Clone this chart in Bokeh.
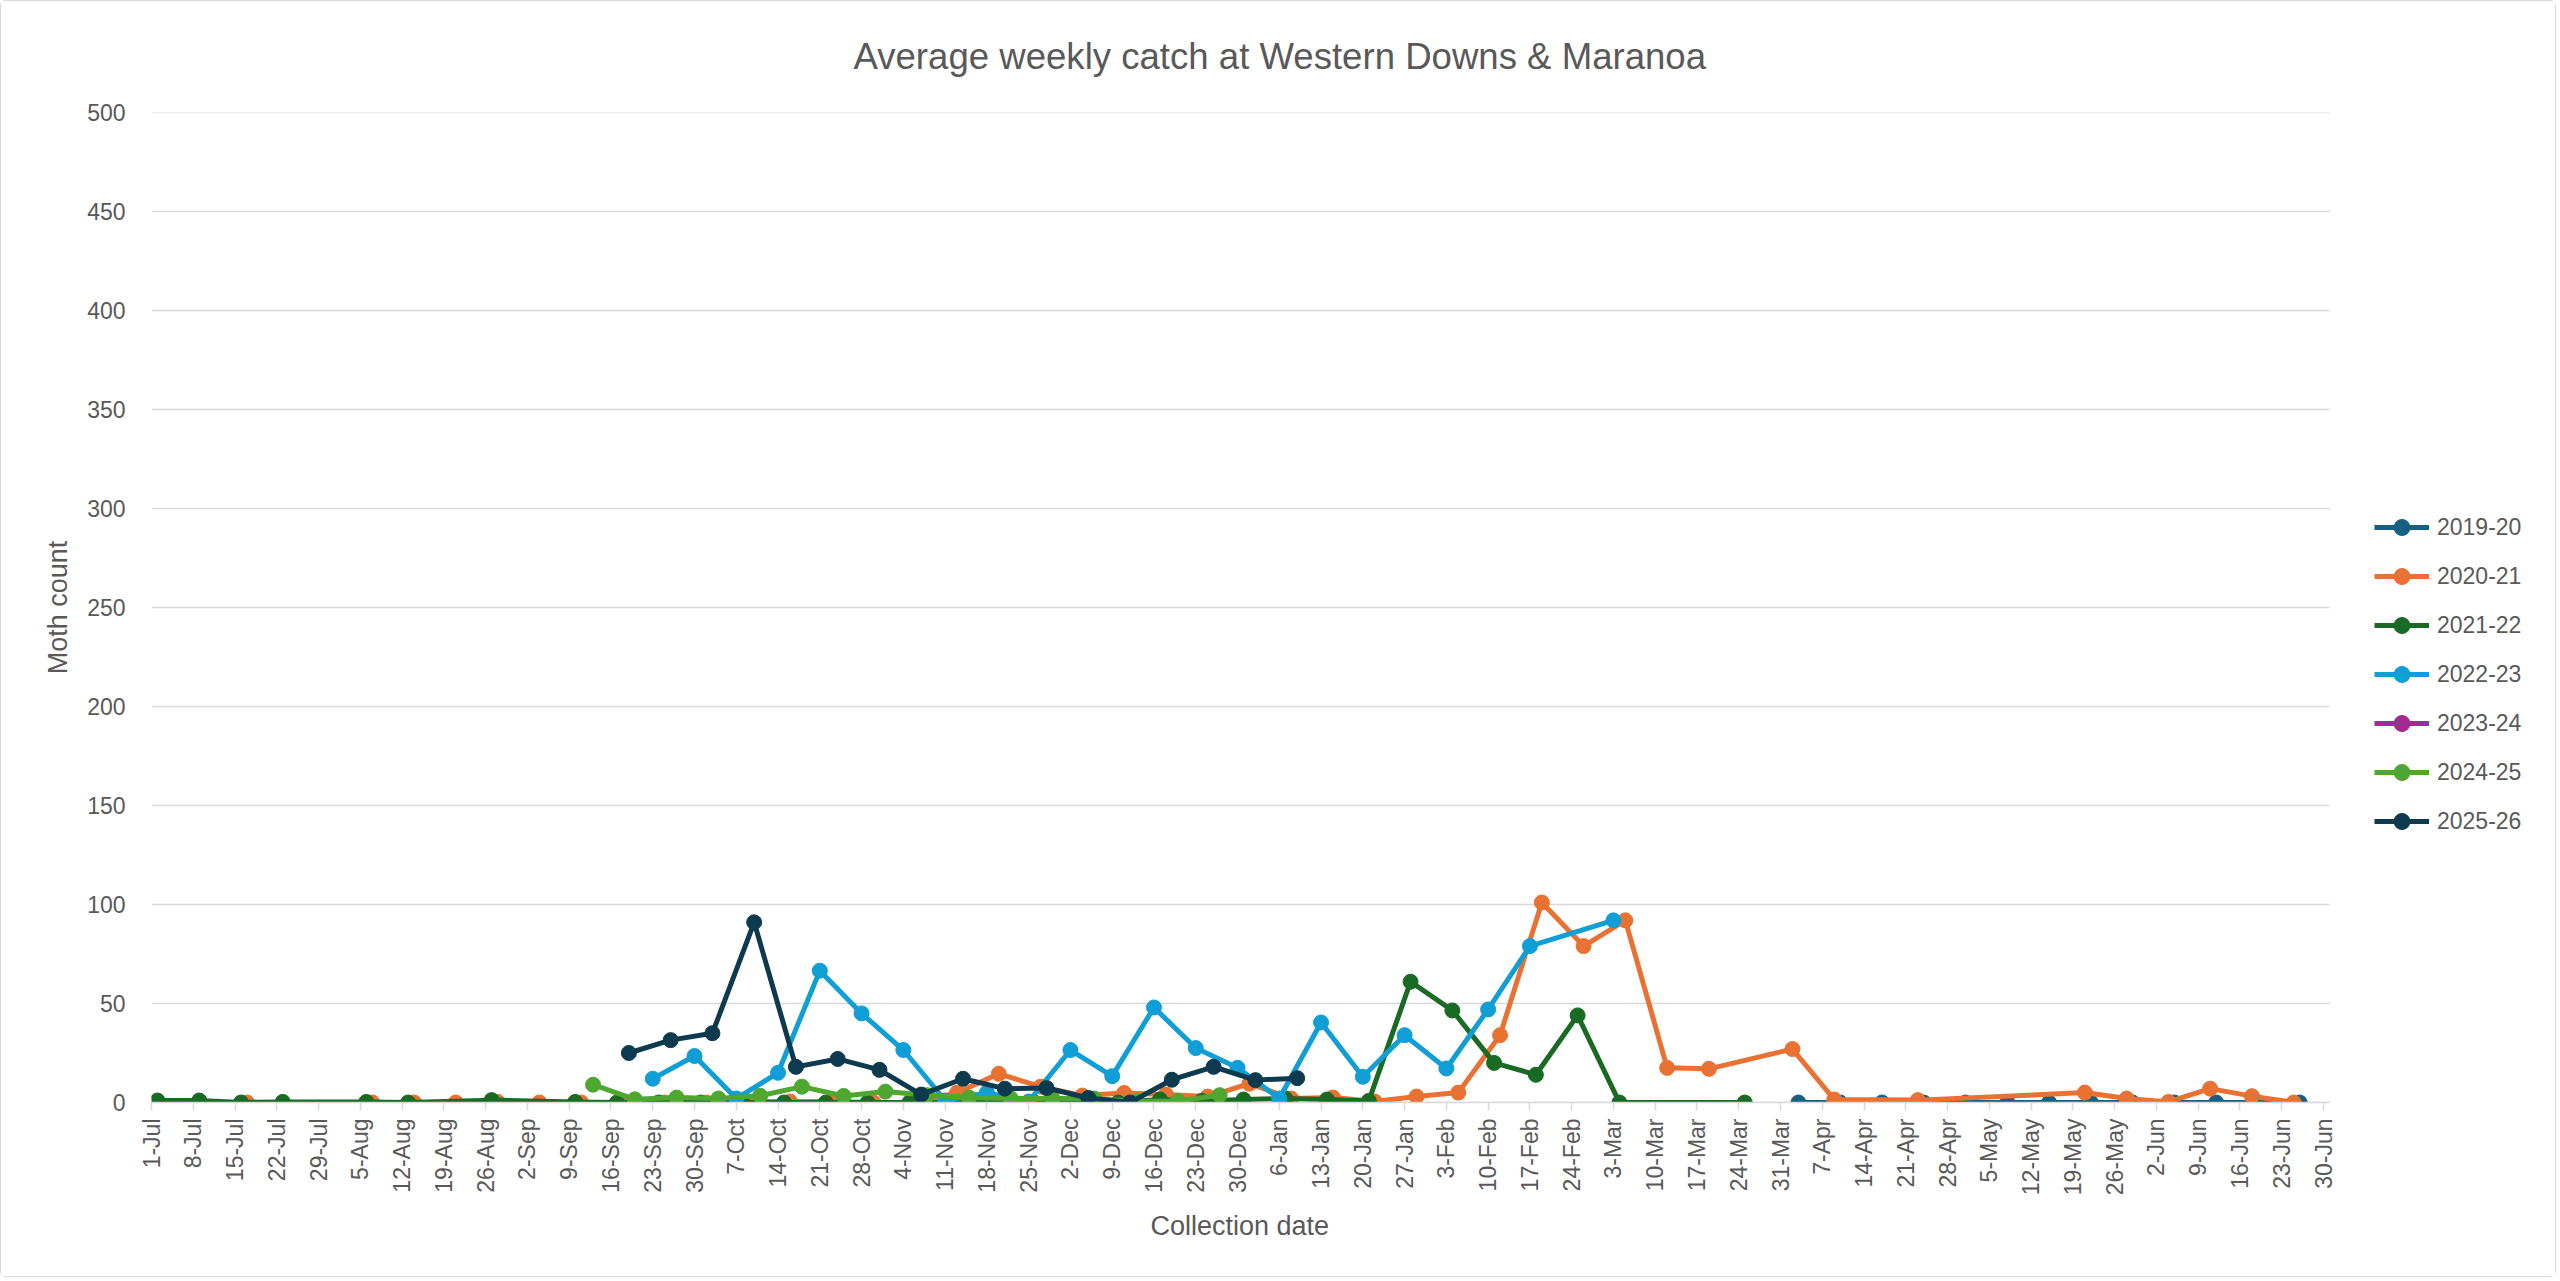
import math
from bokeh.plotting import figure
from bokeh.models import (ColumnDataSource, FixedTicker, Legend, LegendItem,
                          Title, Range1d)
from bokeh.embed import file_html
from bokeh.resources import INLINE

# ---------------- data ----------------
TICK_LABELS = ['1-Jul', '8-Jul', '15-Jul', '22-Jul', '29-Jul', '5-Aug', '12-Aug',
               '19-Aug', '26-Aug', '2-Sep', '9-Sep', '16-Sep', '23-Sep', '30-Sep',
               '7-Oct', '14-Oct', '21-Oct', '28-Oct', '4-Nov', '11-Nov', '18-Nov',
               '25-Nov', '2-Dec', '9-Dec', '16-Dec', '23-Dec', '30-Dec', '6-Jan',
               '13-Jan', '20-Jan', '27-Jan', '3-Feb', '10-Feb', '17-Feb', '24-Feb',
               '3-Mar', '10-Mar', '17-Mar', '24-Mar', '31-Mar', '7-Apr', '14-Apr',
               '21-Apr', '28-Apr', '5-May', '12-May', '19-May', '26-May', '2-Jun',
               '9-Jun', '16-Jun', '23-Jun', '30-Jun']
Y_TICKS = [0, 50, 100, 150, 200, 250, 300, 350, 400, 450, 500]

SEASONS = ["2019-20", "2020-21", "2021-22", "2022-23", "2023-24", "2024-25", "2025-26"]

dates_2019_20 = ['3-Apr', '10-Apr', '17-Apr', '24-Apr', '1-May', '8-May', '15-May',
                 '22-May', '29-May', '5-Jun', '12-Jun', '19-Jun', '26-Jun']
catch_2019_20 = [0, 0, 0, 0, 0, 0, 0, 0, 0, 0, 0, 0, 0]

dates_2020_21 = ['17-Jul', '7-Aug', '14-Aug', '21-Aug', '28-Aug', '4-Sep', '11-Sep',
                 '18-Sep', '25-Sep', '2-Oct', '9-Oct', '16-Oct', '23-Oct', '30-Oct',
                 '6-Nov', '13-Nov', '20-Nov', '27-Nov', '4-Dec', '11-Dec', '18-Dec',
                 '25-Dec', '1-Jan', '8-Jan', '15-Jan', '22-Jan', '29-Jan', '5-Feb',
                 '12-Feb', '19-Feb', '26-Feb', '5-Mar', '12-Mar', '19-Mar', '2-Apr',
                 '9-Apr', '23-Apr', '21-May', '28-May', '4-Jun', '11-Jun', '18-Jun',
                 '25-Jun']
catch_2020_21 = [0, 0, 0, 0, 0.3, 0, 0, 0, 0, 0, 0.5, 0.5, 0.5, 0,
                 0, 5, 14.5, 8, 3.5, 4.8, 4, 3, 9.5, 2, 2.5, 0.5, 3, 5,
                 34, 101, 79, 92, 17.5, 17, 27, 1.5, 1.2, 5, 2, 0.3, 7, 3.2, 0]

dates_2021_22 = ['2-Jul', '9-Jul', '16-Jul', '23-Jul', '6-Aug', '13-Aug', '27-Aug',
                 '10-Sep', '17-Sep', '24-Sep', '1-Oct', '8-Oct', '15-Oct', '22-Oct',
                 '29-Oct', '5-Nov', '12-Nov', '19-Nov', '26-Nov', '3-Dec', '10-Dec',
                 '17-Dec', '24-Dec', '31-Dec', '7-Jan', '14-Jan', '21-Jan', '28-Jan',
                 '4-Feb', '11-Feb', '18-Feb', '25-Feb', '4-Mar', '25-Mar']
catch_2021_22 = [1, 1, 0, 0.3, 0.3, 0, 1.2, 0.3, 0, 0, 0, 0, 0, 0, 0, 0, 0, 0,
                 0, 0, 0, 1.5, 0.8, 1.5, 2, 1.5, 0.8, 61, 46.5, 20, 14, 44, 0, 0]

dates_2022_23 = ['23-Sep', '30-Sep', '7-Oct', '14-Oct', '21-Oct', '28-Oct', '4-Nov',
                 '11-Nov', '18-Nov', '25-Nov', '2-Dec', '9-Dec', '16-Dec', '23-Dec',
                 '30-Dec', '6-Jan', '13-Jan', '20-Jan', '27-Jan', '3-Feb', '10-Feb',
                 '17-Feb', '3-Mar']
catch_2022_23 = [12, 23.5, 2, 15, 66.6, 45, 26.5, 1, 5, 0.5, 26.5, 13.3, 48, 27.5,
                 17.5, 2, 40.4, 13, 34, 17.2, 47, 79, 92]

dates_2023_24 = []
catch_2023_24 = []

dates_2024_25 = ['13-Sep', '20-Sep', '27-Sep', '4-Oct', '11-Oct', '18-Oct', '25-Oct',
                 '1-Nov', '8-Nov', '15-Nov', '22-Nov', '29-Nov', '6-Dec', '13-Dec',
                 '20-Dec', '27-Dec']
catch_2024_25 = [9, 1.6, 2.5, 2, 3.4, 8, 3.3, 5.5, 3.7, 2.5, 2, 2, 2, 0.5, 0.8, 3.7]

dates_2025_26 = ['19-Sep', '26-Sep', '3-Oct', '10-Oct', '17-Oct', '24-Oct', '31-Oct',
                 '7-Nov', '14-Nov', '21-Nov', '28-Nov', '5-Dec', '12-Dec', '19-Dec',
                 '26-Dec', '2-Jan', '9-Jan']
catch_2025_26 = [25, 31.5, 35, 91, 18, 22, 16.5, 4, 12, 7, 7.3, 2.3, 0, 11.5, 18,
                 11.3, 12.3]

COLORS = ["#156082", "#E97132", "#196B24", "#0F9ED5", "#A02B93", "#4EA72E", "#0D3A4E"]

SERIES = [(dates_2019_20, catch_2019_20), (dates_2020_21, catch_2020_21),
          (dates_2021_22, catch_2021_22), (dates_2022_23, catch_2022_23),
          (dates_2023_24, catch_2023_24), (dates_2024_25, catch_2024_25),
          (dates_2025_26, catch_2025_26)]

# day offset within the July-June season (common non-leap year)
MONTH_START = {"Jul": 0, "Aug": 31, "Sep": 62, "Oct": 92, "Nov": 123, "Dec": 153,
               "Jan": 184, "Feb": 215, "Mar": 243, "Apr": 274, "May": 304, "Jun": 335}


def season_day(s):
    d, m = s.split("-")
    return MONTH_START[m] + int(d) - 1


FONT = "Liberation Sans"
TEXT = "#595959"
GRID = "#d9d9d9"

# ---------------- layout ----------------
W, H = 2556, 1277
LEFT, TOP, BOTTOM = 150, 111, 176
AXIS_DAYS = 365              # the date axis spans 1-Jul .. 1-Jul
PLOT_W = 2178                # pixel width of the date axis
FRAME_W = W - LEFT           # frame extends to the right edge (legend lives there)
x_end = AXIS_DAYS * FRAME_W / PLOT_W

p = figure(width=W, height=H, output_backend="svg", toolbar_location=None,
           x_range=Range1d(0, x_end), y_range=Range1d(0, 500),
           min_border_left=LEFT, min_border_right=0, min_border_top=TOP,
           min_border_bottom=BOTTOM)
p.title.visible = False
p.outline_line_color = None
p.background_fill_color = "white"
p.border_fill_color = "white"

p.xgrid.visible = False
p.ygrid.visible = False
p.segment(x0=[0] * len(Y_TICKS), x1=[AXIS_DAYS] * len(Y_TICKS), y0=Y_TICKS, y1=Y_TICKS,
          line_color=GRID, line_width=1.3, level="underlay")

tick_pos = [season_day(t) for t in TICK_LABELS]
p.xaxis.ticker = FixedTicker(ticks=tick_pos)
p.xaxis.bounds = (0, AXIS_DAYS)
p.xaxis.major_label_overrides = {tp: lab for tp, lab in zip(tick_pos, TICK_LABELS)}
p.xaxis.major_label_orientation = math.pi / 2
p.xaxis.axis_line_color = GRID
p.xaxis.axis_line_width = 1.5
p.xaxis.major_tick_line_color = GRID
p.xaxis.major_tick_line_width = 1.5
p.xaxis.major_tick_out = 8
p.xaxis.major_tick_in = 0
p.xaxis.minor_tick_line_color = None
p.xaxis.major_label_standoff = 8

p.yaxis.ticker = FixedTicker(ticks=Y_TICKS)
p.yaxis.axis_line_color = None
p.yaxis.major_tick_line_color = None
p.yaxis.minor_tick_line_color = None
p.yaxis.major_tick_out = 0
p.yaxis.major_tick_in = 0
p.yaxis.major_label_standoff = 26
p.yaxis.axis_label = "Moth count"
p.yaxis.axis_label_standoff = 11

for ax in (p.xaxis, p.yaxis):
    ax.major_label_text_font = FONT
    ax.major_label_text_font_size = "23px"
    ax.major_label_text_color = TEXT
    ax.axis_label_text_font = FONT
    ax.axis_label_text_font_size = "27px"
    ax.axis_label_text_color = TEXT
    ax.axis_label_text_font_style = "normal"

items = []
for name, color, (dates, vals) in zip(SEASONS, COLORS, SERIES):
    xs = [season_day(d) for d in dates]
    ys = list(vals)
    if not xs:  # a season without catches still gets its legend swatch
        xs, ys = [float("nan")], [float("nan")]
    src = ColumnDataSource(dict(x=xs, y=ys))
    lr = p.line("x", "y", source=src, line_color=color, line_width=5)
    sr = p.scatter("x", "y", source=src, size=15, fill_color=color, line_color=color)
    items.append(LegendItem(label=name, renderers=[lr, sr]))

legend = Legend(items=items, location=(2223, 261), orientation="vertical",
                glyph_width=55, glyph_height=40, label_height=40, spacing=9,
                padding=0, margin=0, label_standoff=8,
                border_line_color=None, background_fill_alpha=0,
                label_text_font=FONT, label_text_font_size="23px",
                label_text_color=TEXT)
p.add_layout(legend)

title = Title(text="Average weekly catch at Western Downs & Maranoa",
              align="left", offset=702, standoff=67, vertical_align="top",
              text_font=FONT, text_font_size="36.6px", text_color=TEXT,
              text_font_style="normal")
p.add_layout(title, "above")

xlab = Title(text="Collection date", align="left", offset=999, standoff=20,
             text_font=FONT, text_font_size="27px", text_color=TEXT,
             text_font_style="normal")
p.add_layout(xlab, "below")

p.styles = {"border": "1px solid #d9d9d9", "border-radius": "6px"}

open("out.html", "w").write(file_html(p, INLINE))
